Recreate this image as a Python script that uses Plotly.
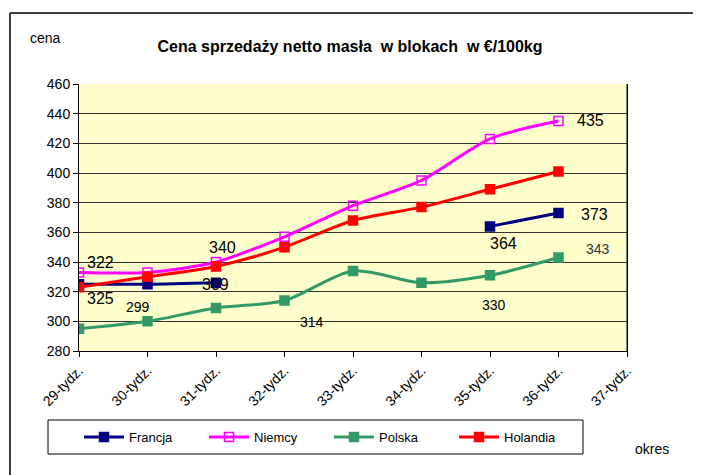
import plotly.graph_objects as go

weeks = [29, 30, 31, 32, 33, 34, 35, 36, 37]
week_labels = ["29-tydz.", "30-tydz.", "31-tydz.", "32-tydz.", "33-tydz.",
               "34-tydz.", "35-tydz.", "36-tydz.", "37-tydz."]
data_weeks = [29, 30, 31, 32, 33, 34, 35, 36]

francja = [325, 325, 326, None, None, None, 364, 373]
niemcy = [333, 333, 340, 357, 378, 395, 423, 435]
polska = [295, 300, 309, 314, 334, 326, 331, 343]
holandia = [323, 330, 337, 350, 368, 377, 389, 401]

label_texts = ["322", "325", "299", "340", "309", "314", "364", "330", "435", "373", "343"]

FONT = "Liberation Sans, Arial, sans-serif"

# page has an 8px body margin; page coords below are converted via these
OFF = 8
PL, PT, PW, PH = 79, 84, 548, 267  # plot area in page pixels


def px(xp):
    return (xp - PL) / PW


def py(yp):
    return (PT + PH - yp) / PH


fig = go.Figure()

series = [
    ("Francja", francja, "#000080", "square"),
    ("Niemcy", niemcy, "#FF00FF", "square-open"),
    ("Polska", polska, "#339966", "square"),
    ("Holandia", holandia, "#FF0000", "square"),
]
for name, vals, col, sym in series:
    fig.add_trace(go.Scatter(
        x=data_weeks, y=vals, name=name, mode="lines+markers",
        line=dict(color=col, width=3, shape="spline", smoothing=0.8),
        marker=dict(symbol=sym, size=9, color=col, line=dict(color=col, width=1.5)),
        connectgaps=False,
    ))

# label placement (x in week units, y in value units, font size, color)
placements = [
    (29.31, 339.5, 16, "#000000"),
    (29.31, 315.5, 16, "#000000"),
    (29.86, 309.5, 14, "#000000"),
    (31.09, 349.5, 16, "#000000"),
    (30.99, 324.5, 16, "#000000"),
    (32.40, 299.5, 14, "#000000"),
    (35.19, 352.8, 16, "#000000"),
    (35.06, 311.0, 14, "#000000"),
    (36.46, 435.7, 16, "#000000"),
    (36.52, 372.3, 16, "#000000"),
    (36.58, 349.0, 14, "#333333"),
]
for txt, (ax, ay, fs, col) in zip(label_texts, placements):
    fig.add_annotation(x=ax, y=ay, text=txt, showarrow=False,
                       font=dict(family=FONT, size=fs, color=col),
                       xanchor="center", yanchor="middle")

fig.add_annotation(xref="paper", yref="paper", x=px(45), y=py(38),
                   text="cena", showarrow=False, xanchor="center", yanchor="middle",
                   font=dict(family=FONT, size=14, color="#000000"))
fig.add_annotation(xref="paper", yref="paper", x=px(652), y=py(449),
                   text="okres", showarrow=False, xanchor="center", yanchor="middle",
                   font=dict(family=FONT, size=14, color="#000000"))

# outer frame (left and top lines)
fig.add_shape(type="line", xref="paper", yref="paper",
              x0=px(10), x1=px(10), y0=py(475), y1=py(13),
              line=dict(color="#000000", width=1.5))
fig.add_shape(type="line", xref="paper", yref="paper",
              x0=px(10), x1=px(701), y0=py(13), y1=py(13),
              line=dict(color="#000000", width=1.5))
# legend box
fig.add_shape(type="rect", xref="paper", yref="paper",
              x0=px(48), x1=px(583), y0=py(454), y1=py(420),
              line=dict(color="#000000", width=1), fillcolor="rgba(0,0,0,0)")
# right border of plot area
fig.add_shape(type="line", xref="paper", yref="paper", x0=1, x1=1, y0=0, y1=1,
              line=dict(color="#000000", width=1))

W, H = 701 - OFF, 475 - OFF
fig.update_layout(
    width=W, height=H,
    margin=dict(l=PL - OFF, r=W - (PL - OFF) - PW, t=PT - OFF, b=H - (PT - OFF) - PH,
                autoexpand=False),
    paper_bgcolor="#FFFFFF",
    plot_bgcolor="#FFFFCC",
    font=dict(family=FONT, size=13, color="#000000"),
    title=dict(text="<b>Cena sprzedaży netto masła  w blokach  w €/100kg</b>",
               x=(350 - OFF) / W, xanchor="center", y=1 - (46 - OFF) / H, yanchor="middle",
               font=dict(family=FONT, size=16, color="#000000")),
    showlegend=True,
    legend=dict(orientation="h", x=px(79), y=py(437), xanchor="left", yanchor="middle",
                borderwidth=0, bgcolor="rgba(0,0,0,0)",
                font=dict(family=FONT, size=13),
                entrywidth=70, entrywidthmode="pixels",
                itemwidth=40, tracegroupgap=0),
)
fig.update_xaxes(
    range=[29, 37], tickmode="array", tickvals=weeks, ticktext=week_labels,
    tickangle=-45, ticks="outside", ticklen=5, tickcolor="#000000",
    showline=True, linecolor="#000000", linewidth=1, mirror=False,
    showgrid=False, zeroline=False,
    tickfont=dict(family=FONT, size=14, color="#000000"),
)
fig.update_yaxes(
    range=[280, 460], dtick=20, tick0=280, ticks="outside", ticklen=5,
    tickcolor="#000000", showline=True, linecolor="#000000", linewidth=1,
    mirror=True, showgrid=True, gridcolor="#333333", gridwidth=1,
    zeroline=False, tickfont=dict(family=FONT, size=14, color="#000000"),
)

fig.write_html("out.html")
